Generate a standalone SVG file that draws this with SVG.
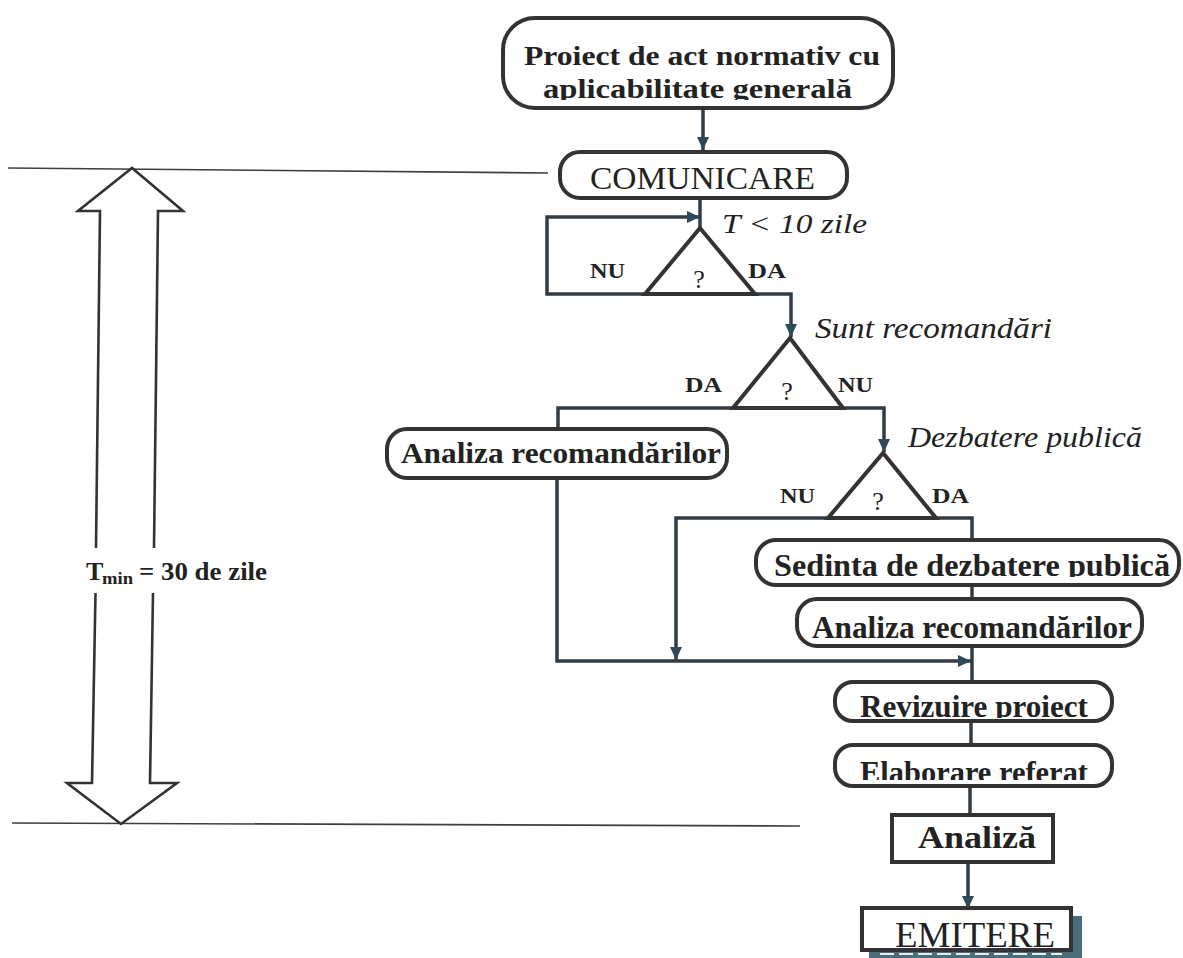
<svg xmlns="http://www.w3.org/2000/svg" width="1183" height="958" viewBox="0 0 1183 958">
<style>
.box{fill:#fff;stroke:#333;stroke-width:4}
.tri{fill:#fff;stroke:#333;stroke-width:4;stroke-linejoin:miter}
.con{fill:none;stroke:#333c44;stroke-width:3.5}
.ref{fill:none;stroke:#3a3f44;stroke-width:1.6}
.big{fill:none;stroke:#333;stroke-width:2.6;stroke-linejoin:miter}
.lb{font-family:"Liberation Serif","Times New Roman",serif;font-weight:bold;fill:#222}
.lr{font-family:"Liberation Serif","Times New Roman",serif;fill:#222}
.li{font-family:"Liberation Serif","Times New Roman",serif;font-style:italic;fill:#222}
.q{font-family:"Liberation Serif","Times New Roman",serif;font-size:26px;fill:#222;text-anchor:middle}
</style>
<defs>
<marker id="ah" markerWidth="14" markerHeight="14" refX="13" refY="6" orient="auto" markerUnits="userSpaceOnUse">
<path d="M0,0 L13,6 L0,12 Z" fill="#2e4a5a"/>
</marker>
<clipPath id="c1"><rect x="503" y="18" width="390" height="82"/></clipPath>
<clipPath id="c2"><rect x="756" y="540" width="425" height="37"/></clipPath>
<clipPath id="c3"><rect x="835" y="682" width="277" height="36"/></clipPath>
<clipPath id="c4"><rect x="835" y="745" width="277" height="35"/></clipPath>
</defs>
<rect width="1183" height="958" fill="#fff"/>

<g id="timeline">
<line class="ref" x1="8" y1="168" x2="548" y2="173"/>
<line class="ref" x1="12" y1="823" x2="800" y2="826"/>
<path class="big" d="M96,548 L100,211 L78,211 L132,168 L183,211 L158,211 L154,548"/>
<path class="big" d="M95.5,593 L92,783 L67,783 L121,824 L177,783 L150,783 L153,593"/>
<text class="lb" x="86" y="580" font-size="26">T</text>
<text class="lb" x="102" y="584" font-size="16" textLength="31" lengthAdjust="spacingAndGlyphs">min</text>
<text class="lb" x="139" y="580" font-size="26" textLength="128" lengthAdjust="spacingAndGlyphs">= 30 de zile</text>
</g>

<g id="connectors">
<line class="con" x1="703" y1="108" x2="703" y2="150" marker-end="url(#ah)"/>
<line class="con" x1="700" y1="198" x2="700" y2="228"/>
<path class="con" d="M645,294 L547,294 L547,217 L700,217" marker-end="url(#ah)"/>
<path class="con" d="M755,294 L791,294 L791,337" marker-end="url(#ah)"/>
<path class="con" d="M733,408 L558,408 L558,429"/>
<path class="con" d="M843,408 L884,408 L884,452" marker-end="url(#ah)"/>
<path class="con" d="M828,518 L676,518 L676,660" marker-end="url(#ah)"/>
<path class="con" d="M936,518 L972,518 L972,540"/>
<path class="con" d="M557,478 L557,661 L971,661" marker-end="url(#ah)"/>
<line class="con" x1="972" y1="585" x2="972" y2="599"/>
<line class="con" x1="972" y1="646" x2="972" y2="682"/>
<line class="con" x1="971" y1="721" x2="971" y2="745"/>
<line class="con" x1="970" y1="786" x2="970" y2="815"/>
<line class="con" x1="968" y1="862" x2="968" y2="909" marker-end="url(#ah)"/>
</g>

<g id="n-proiect">
<rect class="box" x="503" y="18" width="390" height="90" rx="32"/>
<text class="lb" x="524" y="65" font-size="28" textLength="356" lengthAdjust="spacingAndGlyphs">Proiect de act normativ cu</text>
<text class="lb" x="543" y="98" font-size="28" textLength="309" lengthAdjust="spacingAndGlyphs" clip-path="url(#c1)">aplicabilitate generală</text>
</g>

<g id="n-comunicare">
<rect class="box" x="560" y="152" width="287" height="46" rx="20"/>
<text class="lr" x="590" y="189" font-size="32" textLength="225" lengthAdjust="spacingAndGlyphs">COMUNICARE</text>
</g>

<g id="d-t10">
<polygon class="tri" points="700,228 645,294 755,294"/>
<text class="q" x="699" y="288">?</text>
<text class="lb" x="590" y="278" font-size="22" textLength="35" lengthAdjust="spacingAndGlyphs">NU</text>
<text class="lb" x="748" y="278" font-size="22" textLength="38" lengthAdjust="spacingAndGlyphs">DA</text>
<text class="li" x="722" y="233" font-size="28" textLength="145" lengthAdjust="spacingAndGlyphs">T &lt; 10 zile</text>
</g>

<g id="d-recomandari">
<polygon class="tri" points="790,338 733,408 843,408"/>
<text class="q" x="787" y="400">?</text>
<text class="lb" x="685" y="392" font-size="22" textLength="37" lengthAdjust="spacingAndGlyphs">DA</text>
<text class="lb" x="838" y="392" font-size="22" textLength="35" lengthAdjust="spacingAndGlyphs">NU</text>
<text class="li" x="815" y="338" font-size="30" textLength="237" lengthAdjust="spacingAndGlyphs">Sunt recomandări</text>
</g>

<g id="n-analiza1">
<rect class="box" x="387" y="429" width="340" height="49" rx="20"/>
<text class="lb" x="401" y="463" font-size="30" textLength="320" lengthAdjust="spacingAndGlyphs">Analiza recomandărilor</text>
</g>

<g id="d-dezbatere">
<polygon class="tri" points="883,453 828,518 936,518"/>
<text class="q" x="878" y="510">?</text>
<text class="lb" x="780" y="503" font-size="22" textLength="35" lengthAdjust="spacingAndGlyphs">NU</text>
<text class="lb" x="932" y="503" font-size="22" textLength="37" lengthAdjust="spacingAndGlyphs">DA</text>
<text class="li" x="908" y="447" font-size="30" textLength="234" lengthAdjust="spacingAndGlyphs">Dezbatere publică</text>
</g>

<g id="n-sedinta">
<rect class="box" x="756" y="540" width="423" height="45" rx="20"/>
<text class="lb" x="774" y="576" font-size="32" textLength="396" lengthAdjust="spacingAndGlyphs" clip-path="url(#c2)">Sedinta de dezbatere publică</text>
</g>

<g id="n-analiza2">
<rect class="box" x="797" y="599" width="345" height="47" rx="20"/>
<text class="lb" x="812" y="638" font-size="31" textLength="320" lengthAdjust="spacingAndGlyphs">Analiza recomandărilor</text>
</g>

<g id="n-revizuire">
<rect class="box" x="835" y="682" width="277" height="39" rx="18"/>
<text class="lb" x="860" y="717" font-size="31" textLength="228" lengthAdjust="spacingAndGlyphs" clip-path="url(#c3)">Revizuire proiect</text>
</g>

<g id="n-elaborare">
<rect class="box" x="835" y="745" width="277" height="41" rx="18"/>
<text class="lb" x="860" y="783" font-size="31" textLength="228" lengthAdjust="spacingAndGlyphs" clip-path="url(#c4)">Elaborare referat</text>
</g>

<g id="n-analiza3">
<rect class="box" x="892" y="815" width="161" height="47"/>
<text class="lb" x="918" y="848" font-size="31" textLength="118" lengthAdjust="spacingAndGlyphs">Analiză</text>
</g>

<g id="n-emitere">
<rect x="869" y="916" width="213" height="42" fill="#4b6c7c"/>
<line x1="880" y1="954" x2="1062" y2="954" stroke="#e8eef0" stroke-width="2" stroke-dasharray="14,5"/>
<rect class="box" x="862" y="908" width="209" height="42"/>
<text class="lr" x="895" y="947" font-size="36" textLength="160" lengthAdjust="spacingAndGlyphs">EMITERE</text>
</g>
</svg>
